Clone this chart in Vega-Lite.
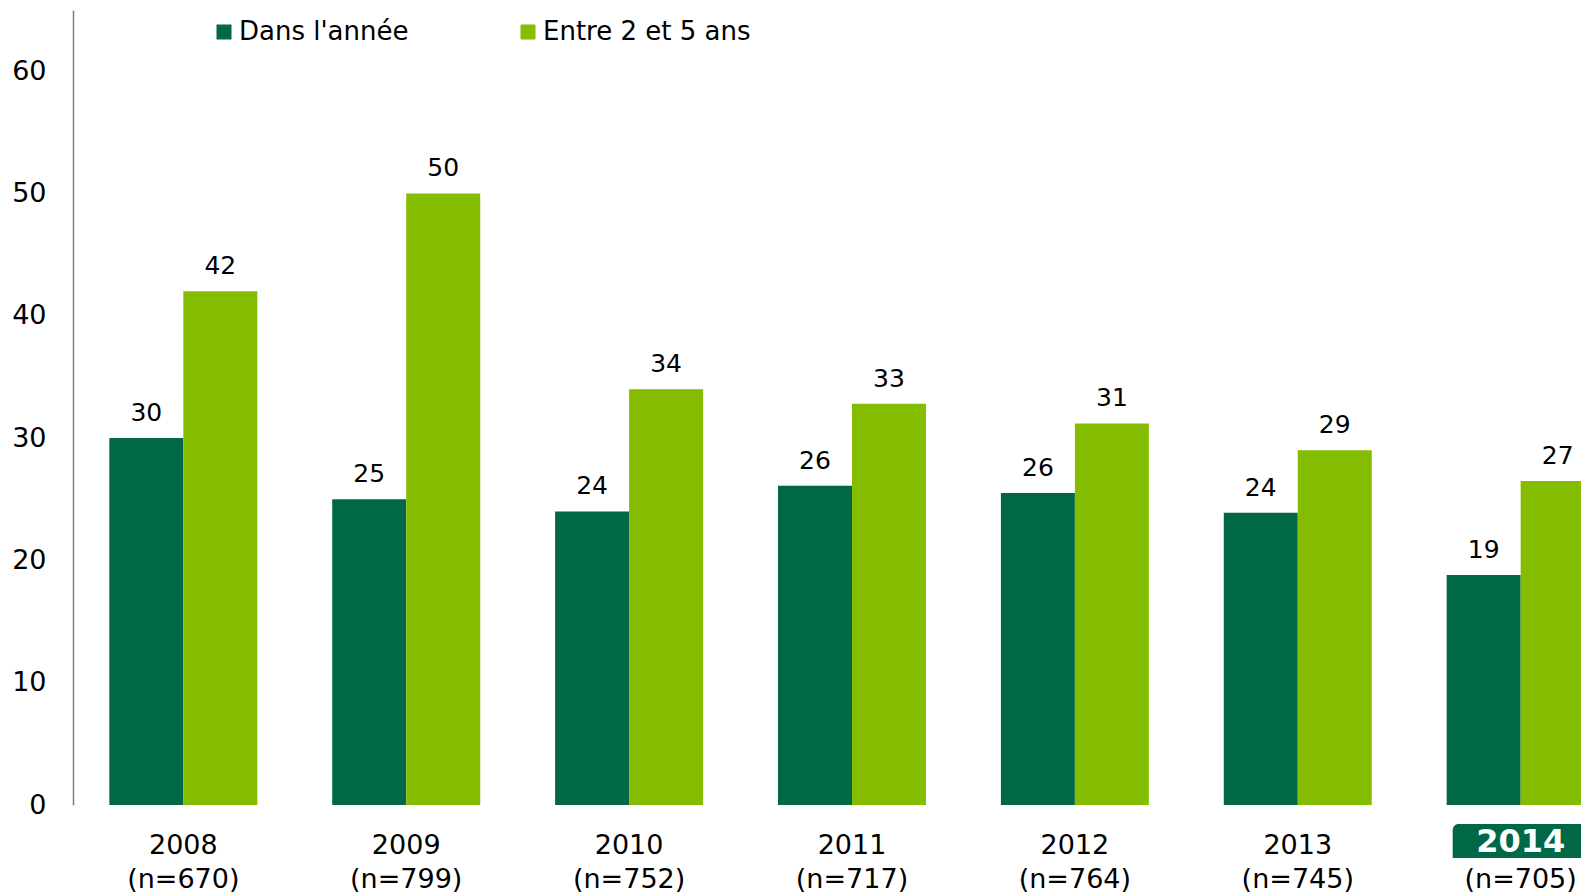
{
  "$schema": "https://vega.github.io/schema/vega-lite/v6.json",
  "autosize": "none",
  "width": 1508,
  "height": 795,
  "padding": {"left": 73, "top": 10, "right": 0, "bottom": 90},
  "background": "#ffffff",
  "config": {
    "font": "DejaVu Sans",
    "view": {"stroke": null},
    "legend": {"padding": 0}
  },
  "data": {
    "values": [
      {"annee": "2008 (n=670)", "serie": "Dans l'année", "valeur": 30},
      {"annee": "2008 (n=670)", "serie": "Entre 2 et 5 ans", "valeur": 42},
      {"annee": "2009 (n=799)", "serie": "Dans l'année", "valeur": 25},
      {"annee": "2009 (n=799)", "serie": "Entre 2 et 5 ans", "valeur": 50},
      {"annee": "2010 (n=752)", "serie": "Dans l'année", "valeur": 24},
      {"annee": "2010 (n=752)", "serie": "Entre 2 et 5 ans", "valeur": 34},
      {"annee": "2011 (n=717)", "serie": "Dans l'année", "valeur": 26.1},
      {"annee": "2011 (n=717)", "serie": "Entre 2 et 5 ans", "valeur": 32.8},
      {"annee": "2012 (n=764)", "serie": "Dans l'année", "valeur": 25.5},
      {"annee": "2012 (n=764)", "serie": "Entre 2 et 5 ans", "valeur": 31.2},
      {"annee": "2013 (n=745)", "serie": "Dans l'année", "valeur": 23.9},
      {"annee": "2013 (n=745)", "serie": "Entre 2 et 5 ans", "valeur": 29},
      {"annee": "2014 (n=705)", "serie": "Dans l'année", "valeur": 18.8},
      {"annee": "2014 (n=705)", "serie": "Entre 2 et 5 ans", "valeur": 26.5}
    ]
  },
  "encoding": {
    "x": {
      "field": "annee",
      "type": "nominal",
      "sort": null,
      "scale": {"range": [0, 1558], "paddingInner": 0.336, "paddingOuter": 0.163},
      "axis": {
        "title": null,
        "domain": false,
        "ticks": false,
        "labelAngle": 0,
        "labelFontSize": 27,
        "labelLineHeight": 34,
        "labelPadding": 27,
        "labelColor": "#000000",
        "labelExpr": "indexof(datum.value, '2014') == 0 ? ['', '(n=705)'] : split(datum.value, ' ')"
      }
    }
  },
  "layer": [
    {
      "mark": {"type": "bar"},
      "encoding": {
        "xOffset": {"field": "serie", "type": "nominal"},
        "y": {
          "field": "valeur",
          "type": "quantitative",
          "scale": {"domain": [0, 65], "nice": false},
          "axis": {
            "title": null,
            "values": [0, 10, 20, 30, 40, 50, 60],
            "grid": false,
            "ticks": false,
            "domainColor": "#7f7f7f",
            "domainWidth": 1.5,
            "labelFontSize": 27,
            "labelPadding": 27,
            "labelColor": "#000000"
          }
        },
        "color": {
          "field": "serie",
          "type": "nominal",
          "scale": {"domain": ["Dans l'année", "Entre 2 et 5 ans"], "range": ["#006747", "#84bd00"]},
          "legend": {
            "title": null,
            "orient": "none",
            "legendX": 138,
            "legendY": 9,
            "direction": "horizontal",
            "columns": 2,
            "columnPadding": 106,
            "symbolType": "square",
            "symbolSize": 225,
            "symbolStrokeWidth": 0,
            "symbolOpacity": 1,
            "labelFontSize": 26,
            "labelLimit": 0,
            "labelColor": "#000000",
            "labelOffset": 2
          }
        }
      }
    },
    {
      "mark": {"type": "text", "baseline": "bottom", "dy": -12, "fontSize": 25, "color": "#000000"},
      "encoding": {
        "xOffset": {"field": "serie", "type": "nominal"},
        "y": {"field": "valeur", "type": "quantitative"},
        "text": {"field": "valeur", "type": "quantitative", "format": ".0f"}
      }
    },
    {
      "transform": [{"filter": "indexof(datum.annee, '2014') == 0 && datum.serie == 'Dans l\\'année'"}],
      "mark": {"type": "bar", "width": 136, "color": "#006747", "cornerRadiusTopLeft": 6, "cornerRadiusTopRight": 6},
      "encoding": {
        "y": {"datum": -1.55, "type": "quantitative"},
        "y2": {"datum": -4.33}
      }
    },
    {
      "transform": [{"filter": "indexof(datum.annee, '2014') == 0 && datum.serie == 'Dans l\\'année'"}],
      "mark": {"type": "text", "baseline": "middle", "fontSize": 32, "fontWeight": "bold", "color": "#ffffff"},
      "encoding": {
        "y": {"datum": -3.05, "type": "quantitative"},
        "text": {"value": "2014"}
      }
    }
  ]
}
